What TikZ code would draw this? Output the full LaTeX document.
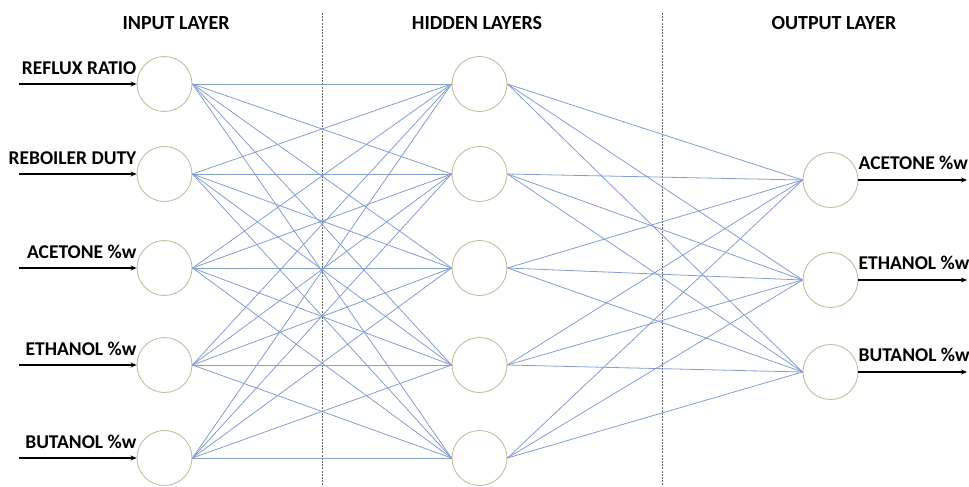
\documentclass[tikz,border=0pt]{standalone}
\usepackage{fontspec}
\setmainfont{Carlito}
\usetikzlibrary{arrows.meta,positioning}
\definecolor{edgeblue}{RGB}{132,158,208}
\definecolor{ringtan}{RGB}{198,188,158}

\begin{document}
\begin{tikzpicture}[x=1pt,y=-1pt,
    neuron/.style={circle,draw=ringtan,line width=0.9pt,minimum size=55pt,inner sep=0pt},
    weight/.style={draw=edgeblue,line width=0.8pt},
    signal/.style={draw=black,line width=1.2pt,-{Stealth[length=6pt,width=5pt]}},
    layername/.style={font=\bfseries\fontsize{20}{24}\selectfont},
    varname/.style={font=\bfseries\fontsize{19.5}{24}\selectfont,inner sep=0pt},
    divider/.style={draw=gray!80!black,line width=0.8pt,dash pattern=on 2pt off 1.2pt}]
    \useasboundingbox (0,0) rectangle (969,487);

    \node[layername] (ttlin) at (176,23) {INPUT LAYER};
    \node[layername] (ttlhid) at (477,23) {HIDDEN LAYERS};
    \node[layername] (ttlout) at (834,23) {OUTPUT LAYER};

    \coordinate (divAtop) at (322,13);
    \coordinate (divAbot) at (322,487);
    \coordinate (divBtop) at (662,13);
    \coordinate (divBbot) at (662,487);
    \draw[divider] (divAtop)--(divAbot);
    \draw[divider] (divBtop)--(divBbot);

    \foreach \k/\yy/\txt in {1/84/REFLUX RATIO, 2/174/REBOILER DUTY,
        3/268/ACETONE \%w, 4/365/ETHANOL \%w, 5/458/BUTANOL \%w}{
        \node[neuron] (in\k) at (164.5,\yy) {};
        \node[neuron] (hid\k) at (479.5,\yy) {};
        \coordinate (src\k) at (19,\yy);
        \draw[signal] (src\k)--(in\k);
        \node[varname, above left=9pt and 0pt of in\k.west] (lblin\k) {\txt};
    }

    \foreach \k/\yy/\txt in {1/180/ACETONE \%w, 2/280/ETHANOL \%w, 3/372/BUTANOL \%w}{
        \node[neuron] (out\k) at (830.5,\yy) {};
        \coordinate (snk\k) at (967,\yy);
        \draw[signal] (out\k)--(snk\k);
        \node[varname, above right=10pt and 0pt of out\k.east] (lblout\k) {\txt};
    }

    \foreach \i in {1,...,5}
        \foreach \j in {1,...,5}
            \draw[weight] (in\i.east)--(hid\j.west);
    \foreach \i in {1,...,5}
        \foreach \j in {1,2,3}
            \draw[weight] (hid\i.east)--(out\j.west);
\end{tikzpicture}
\end{document}
